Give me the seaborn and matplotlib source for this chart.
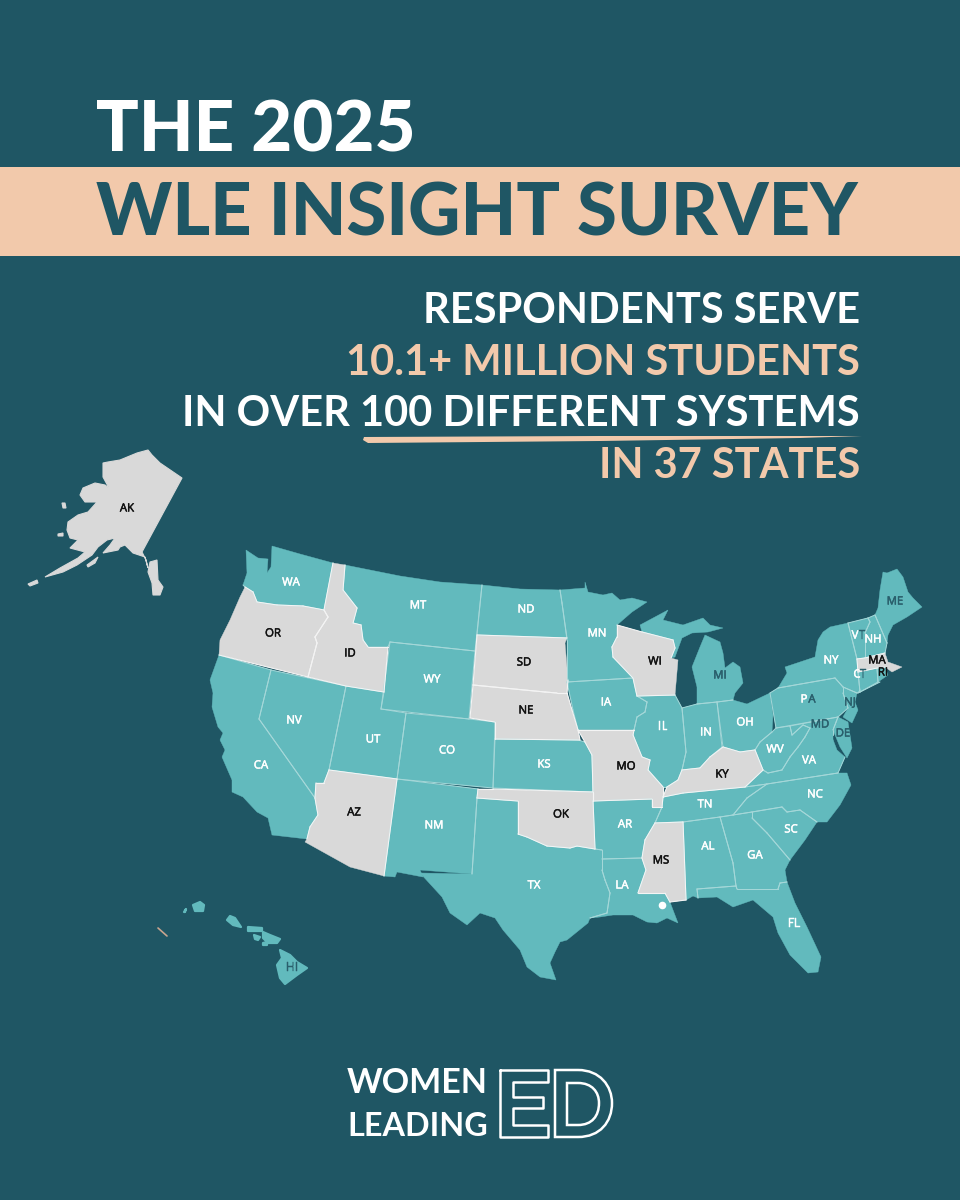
import matplotlib
matplotlib.use("Agg")
import matplotlib.pyplot as plt
from matplotlib.patches import PathPatch, Rectangle, Polygon
from matplotlib.path import Path
import matplotlib.patheffects as pe
import pandas as pd
import seaborn as sns

sns.set_theme(style="white")

# Colors
BG = "#1F5664"
TEAL = "#62BABD"
GRAY = "#D9D9D9"
PEACH = "#F2C9AB"
BORDER_TEAL = "#A5D8D9"
DARK_LABEL = "#2A5F6C"

# State outlines in pixel coordinates
WA = [(246,550),(258,558),(268,559),(267,573),(271,567),(272,546),(300,554),(333,563),(324,610),(303,606),(277,605),(257,602),(253,592),(245,587),(243,585),(247,573)]
OR = [(245,587),(253,592),(257,602),(277,605),(303,606),(324,610),(328,617),(315,637),(317,643),(308,677),(219,655),(220,640),(230,620),(240,597)]
ID = [(333,563),(339,564),(345,565),(343,590),(357,608),(353,623),(361,625),(363,640),(368,647),(388,647),(384,692),(346,686),(308,677),(317,643),(315,637),(328,617),(324,610)]
MT = [(345,565),(400,576),(440,582),(482,585),(475,651),(390,642),(388,647),(368,647),(363,640),(361,625),(353,623),(357,608),(343,590)]
ND = [(482,585),(520,589),(560,590),(562,603),(567,638),(477,635)]
SD = [(477,635),(567,638),(565,643),(568,680),(567,693),(557,693),(545,692),(473,685)]
NE = [(473,685),(545,692),(557,693),(567,693),(572,710),(578,730),(580,740),(495,739),(495,722),(470,718)]
WY = [(390,642),(475,651),(469,719),(381,709)]
UT = [(346,686),(384,692),(381,709),(406,713),(397,779),(329,770)]
CO = [(406,713),(469,719),(495,722),(493,788),(397,779)]
NV = [(271,670),(346,686),(329,770),(324,783),(316,783),(315,798),(259,719)]
CA = [(219,655),(271,670),(259,719),(315,798),(318,815),(310,827),(307,839),(272,835),(268,818),(257,812),(243,797),(232,792),(232,780),(222,757),(225,750),(220,740),(223,733),(218,727),(212,707),(213,693),(210,680)]
AZ = [(329,770),(397,779),(384,876),(350,867),(305,842),(307,839),(310,827),(318,815),(315,798),(316,783),(324,783)]
NM = [(397,779),(478,789),(477,798),(472,874),(420,870),(423,877),(397,872),(395,877),(384,876)]
KS = [(495,739),(578,740),(585,742),(592,755),(593,792),(493,788)]
OK = [(478,789),(493,789),(593,792),(593,801),(595,849),(577,846),(570,848),(547,846),(527,837),(518,834),(518,801),(477,798)]
TX = [(477,798),(518,801),(518,834),(527,837),(547,846),(570,848),(577,846),(595,849),(602,850),(602,870),(605,880),(610,893),(607,913),(590,918),(588,923),(567,940),(560,942),(555,952),(550,963),(556,980),(540,977),(527,967),(520,950),(503,930),(495,918),(480,913),(467,925),(450,913),(442,897),(420,873),(472,874)]
AR = [(593,801),(652,799),(652,807),(662,807),(655,823),(645,840),(642,858),(602,859),(602,850),(595,849)]
MO = [(578,730),(634,730),(633,735),(642,757),(650,760),(648,770),(663,787),(663,797),(662,807),(652,807),(652,799),(593,801),(593,792),(592,755),(585,742)]
IA = [(567,682),(633,678),(637,696),(647,702),(645,712),(637,717),(634,730),(578,730),(573,710)]
MN = [(560,590),(585,588),(585,582),(588,592),(603,595),(612,593),(620,600),(632,598),(647,602),(632,612),(617,625),(617,637),(612,647),(613,657),(633,678),(567,682),(567,640),(562,603)]
WI = [(617,625),(642,632),(673,640),(675,648),(671,658),(678,660),(675,695),(637,696),(633,678),(613,657),(612,647),(617,637)]
IL = [(637,696),(675,695),(682,708),(686,752),(682,770),(678,780),(667,787),(663,787),(648,770),(650,760),(642,757),(633,735),(634,730),(637,717),(645,712),(647,702)]
IN = [(682,708),(697,704),(717,702),(722,747),(710,757),(700,768),(682,770),(686,752)]
OH = [(717,702),(733,700),(747,704),(770,693),(773,715),(772,732),(760,742),(755,750),(740,752),(723,747)]
MI_LOWER = [(692,667),(700,647),(705,635),(720,642),(723,653),(725,668),(733,662),(740,667),(743,683),(735,693),(733,700),(717,702),(697,704),(697,687)]
MI_UPPER = [(640,625),(668,610),(663,620),(683,625),(703,618),(710,625),(723,628),(708,632),(692,633),(682,638),(675,657),(671,658),(675,648),(673,640),(642,632)]
KY = [(723,747),(740,752),(755,750),(763,770),(745,787),(683,793),(663,797),(667,787),(678,780),(682,770),(700,768),(710,757)]
WV = [(772,732),(776,728),(790,726),(792,735),(803,725),(810,728),(805,737),(798,747),(790,757),(782,770),(768,773),(763,770),(755,750),(760,742)]
PA = [(770,693),(778,688),(835,678),(843,687),(843,693),(848,708),(838,717),(776,728)]
MD = [(790,726),(838,717),(833,730),(833,735),(833,743),(823,733),(810,728),(803,725),(792,735)]
DE = [(838,717),(848,722),(852,748),(847,758),(840,747),(833,730)]
VA = [(768,773),(782,770),(790,757),(798,747),(805,737),(810,728),(817,727),(832,737),(837,750),(845,757),(838,773),(767,784),(745,787),(763,770)]
NC = [(767,784),(838,773),(847,773),(851,785),(840,805),(827,822),(817,822),(800,810),(787,812),(782,807),(752,812),(733,815),(747,798)]
TN = [(663,797),(683,793),(745,787),(767,784),(747,798),(733,815),(720,817),(683,822),(655,823),(662,807)]
MS = [(655,823),(683,822),(686,900),(670,902),(665,893),(638,893),(646,870),(642,858),(645,840)]
LA = [(602,859),(642,858),(646,870),(638,893),(665,893),(670,902),(673,910),(678,923),(667,918),(657,923),(647,922),(633,915),(613,915),(600,917),(590,918),(607,913),(610,893),(605,880),(602,870)]
AL = [(683,822),(720,817),(733,863),(736,886),(697,889),(698,898),(693,896),(686,900)]
GA = [(720,817),(733,815),(752,812),(752,818),(767,833),(790,860),(785,870),(787,882),(780,883),(778,889),(737,889),(736,886),(733,863)]
SC = [(752,818),(752,812),(782,807),(787,812),(800,810),(817,822),(805,840),(790,860),(767,833)]
FL = [(697,889),(736,886),(737,889),(778,889),(780,883),(787,882),(795,903),(807,927),(821,957),(818,972),(808,973),(790,955),(778,933),(773,917),(753,900),(733,907),(717,897),(698,898)]
NJ = [(843,687),(857,693),(855,702),(858,710),(852,723),(843,717),(848,708),(843,693)]
NY = [(778,688),(787,673),(785,667),(800,662),(815,657),(818,640),(823,632),(830,627),(848,623),(857,659),(858,672),(860,692),(857,693),(843,687),(835,678)]
LONG_ISLAND = [(858,693),(880,682),(873,682),(860,690)]
VT = [(848,623),(868,618),(870,622),(865,633),(865,658),(857,659)]
NH = [(868,618),(875,615),(887,643),(885,653),(865,658),(865,633),(870,622)]
ME = [(875,615),(878,608),(880,590),(883,572),(887,573),(897,569),(903,577),(908,592),(913,598),(922,607),(907,617),(893,625),(888,635),(887,643)]
MA = [(857,659),(865,658),(885,653),(888,662),(902,667),(892,672),(885,667),(877,668),(858,672)]
CT = [(858,672),(877,668),(878,682),(860,692)]
RI = [(877,668),(885,667),(888,675),(878,682)]
AK = [(103,463),(108,462),(120,460),(137,453),(148,450),(152,455),(160,463),(182,478),(142,552),(146,560),(148,568),(145,557),(133,553),(125,545),(120,547),(118,550),(103,553),(110,545),(115,538),(107,540),(98,547),(92,555),(77,565),(63,572),(45,577),(60,568),(78,558),(85,552),(70,548),(78,540),(70,538),(67,530),(68,522),(78,515),(88,512),(97,502),(85,502),(80,495),(83,488),(95,483),(105,485),(109,488),(103,477)]
AK_PANHANDLE = [(150,562),(157,560),(158,580),(163,587),(160,595),(153,595),(152,583),(148,572)]
AK_KODIAK = [(87,565),(98,557),(95,563),(88,567)]
AK_ISLE_1 = [(28,584),(37,580),(38,583),(30,586)]
AK_ISLE_2 = [(58,534),(63,533),(63,536),(58,536)]
AK_ISLE_3 = [(62,503),(65,503),(66,508),(63,508)]
HI_BIG = [(280,950),(290,955),(297,962),(307,968),(297,975),(285,984),(280,978),(277,965),(282,958)]
HI_MAUI = [(263,932),(270,935),(280,939),(277,943),(268,943),(263,938)]
HI_MOLOKAI = [(248,927),(262,928),(262,931),(248,931)]
HI_LANAI = [(254,935),(260,937),(258,940),(255,939)]
HI_KAHOOLAWE = [(263,943),(267,942),(267,945),(263,945)]
HI_OAHU = [(230,916),(235,918),(241,927),(233,925),(227,920)]
HI_KAUAI = [(193,905),(200,902),(204,905),(203,911),(195,911)]
HI_NIIHAU = [(184,912),(186,909),(185,912)]

teal_shapes = [WA, MT, ND, WY, UT, CO, NV, CA, NM, KS, TX, AR, IA, MN, IL, IN, OH, MI_LOWER, MI_UPPER, WV, PA, MD,
               DE, VA, NC, TN, LA, AL, GA, SC, FL, NJ, NY, LONG_ISLAND, VT, NH, ME, CT, RI]
gray_shapes = [OR, ID, SD, NE, AZ, OK, MO, WI, KY, MS, MA]
hawaii_shapes = [HI_BIG, HI_MAUI, HI_MOLOKAI, HI_LANAI, HI_KAHOOLAWE, HI_OAHU, HI_KAUAI, HI_NIIHAU]
alaska_shapes = [AK, AK_PANHANDLE, AK_KODIAK, AK_ISLE_1, AK_ISLE_2, AK_ISLE_3]

# Labels
label_names = ["AK","WA","OR","ID","MT","ND","SD","WY","NE","NV","UT","CO","KS","CA","AZ","NM","OK","TX","MN","WI","IA","IL","IN","OH","MI","MO","KY","AR","TN","MS","AL","GA","SC","NC","VA","WV","P","A","MD","DE","NJ","NY","V","T","NH","ME","MA","RI","C","T","LA","FL","HI"]
label_x = [127,291,273,350,418,526,524,432,526,294,373,447,544,261,354,434,561,534,597,655,606,663,706,745,720,626,722,625,705,661,708,755,791,815,809,775,804,812,820,843,850,831,855,862,873,895,877,883,857,863,622,794,292]
label_y = [509,583,634,654,606,610,663,680,711,721,740,751,765,766,813,826,815,886,634,662,703,727,733,723,676,767,775,825,805,861,847,856,830,795,761,750,700,700,725,734,703,661,636,636,640,602,661,673,675,675,886,924,968]
black_labels = ["AK","OR","ID","SD","NE","AZ","OK","MO","WI","KY","MS","MA","RI"]
dark_labels = ["MI","MD","DE","NJ","ME","HI","A","T"]

fig = plt.figure(figsize=(9.6, 12), dpi=100, facecolor=BG)
ax = fig.add_axes([0, 0, 1, 1])

# Header band
ax.add_patch(Rectangle((0, 167), 960, 89, color=PEACH, lw=0))
ax.text(96, 151, "THE 2025", color="white", family="Lato", weight="black", fontsize=51, va="baseline", ha="left")
ax.text(96, 236, "WLE INSIGHT SURVEY", color=BG, family="Lato", weight="black", fontsize=52, va="baseline", ha="left")

# Right aligned statement
lines = ["RESPONDENTS SERVE", "10.1+ MILLION STUDENTS", "IN OVER 100 DIFFERENT SYSTEMS", "IN 37 STATES"]
line_colors = ["white", PEACH, "white", PEACH]
line_y = [323, 375, 426, 478]
for txt, col, y in zip(lines, line_colors, line_y):
    ax.text(860, y, txt, color=col, family="Lato", weight="bold", fontsize=30, va="baseline", ha="right")
ax.add_patch(Polygon([(364, 437), (600, 436), (862, 436), (800, 438), (600, 441), (368, 443), (363, 440)], color=PEACH, lw=0))


# Map polygons: filled shapes, then only the borders two shapes have in common
def near_other(pt, own, shapes, tol=2):
    for other in shapes:
        if other is own:
            continue
        for q in other:
            if abs(q[0] - pt[0]) <= tol and abs(q[1] - pt[1]) <= tol:
                return True
    return False


def draw_states(shapes, all_shapes, fill, edge):
    rows = []
    seg = 0
    for shape in shapes:
        ax.fill([p[0] for p in shape], [p[1] for p in shape], color=fill, lw=0.3, zorder=2)
        closed = shape + shape[:1]
        for a, b in zip(closed[:-1], closed[1:]):
            if near_other(a, shape, all_shapes) and near_other(b, shape, all_shapes):
                rows.append({"seg": seg, "order": 0, "x": a[0], "y": a[1]})
                rows.append({"seg": seg, "order": 1, "x": b[0], "y": b[1]})
                seg += 1
    return pd.DataFrame(rows), edge


all_states = teal_shapes + gray_shapes
teal_edges, teal_edge_color = draw_states(teal_shapes, all_states, TEAL, BORDER_TEAL)
gray_edges, gray_edge_color = draw_states(gray_shapes, all_states, GRAY, "#F4F4F4")
sns.lineplot(data=teal_edges, x="x", y="y", units="seg", estimator=None, sort=False, color=teal_edge_color,
             linewidth=0.7, ax=ax, zorder=3, legend=False)
sns.lineplot(data=gray_edges, x="x", y="y", units="seg", estimator=None, sort=False, color=gray_edge_color,
             linewidth=0.8, ax=ax, zorder=3, legend=False)

for shape in alaska_shapes:
    ax.fill([p[0] for p in shape], [p[1] for p in shape], color=GRAY, lw=0.8, zorder=2)
for shape in hawaii_shapes:
    ax.fill([p[0] for p in shape], [p[1] for p in shape], color=TEAL, lw=1.6, joinstyle="round", zorder=2)

# Details
ax.plot([158, 167], [928, 936], color="#C9A58F", lw=1.2, zorder=3)
ax.scatter([662], [905], s=30, color="white", lw=0, zorder=4)

for name, x, y in zip(label_names, label_x, label_y):
    col = "white"
    if name in black_labels:
        col = "#111111"
    elif name in dark_labels:
        col = DARK_LABEL
    ax.text(x, y, name, color=col, family="Open Sans", fontsize=8.2, ha="center", va="center", zorder=5,
            path_effects=[pe.withStroke(linewidth=0.35, foreground=col)])

# Logo
ax.text(347, 1093, "WOMEN", color="white", family="Lato", weight="bold", fontsize=24.5, va="baseline", ha="left")
ax.text(347, 1136, "LEADING", color="white", family="Lato", weight="bold", fontsize=23.3, va="baseline", ha="left")
E_X = [500, 548, 548, 513, 513, 543, 543, 513, 513, 548, 548, 500, 500]
E_Y = [1070, 1070, 1082, 1082, 1097, 1097, 1108, 1108, 1125, 1125, 1137, 1137, 1070]
ax.plot(E_X, E_Y, color="white", lw=1.8, zorder=5)
d_codes = [Path.MOVETO, Path.LINETO, Path.CURVE4, Path.CURVE4, Path.CURVE4, Path.CURVE4, Path.CURVE4, Path.CURVE4,
           Path.LINETO, Path.CLOSEPOLY]
d_outer = Path([(555, 1070), (578, 1070), (600, 1070), (612, 1086), (612, 1103), (612, 1122), (600, 1137), (578, 1137),
                (555, 1137), (555, 1070)], d_codes)
d_inner = Path([(567, 1083), (578, 1083), (592, 1083), (599, 1092), (599, 1103), (599, 1116), (592, 1125), (578, 1125),
                (567, 1125), (567, 1083)], d_codes)
ax.add_patch(PathPatch(d_outer, fc="none", ec="white", lw=1.8, zorder=5))
ax.add_patch(PathPatch(d_inner, fc="none", ec="white", lw=1.8, zorder=5))

ax.set_xlim(0, 960)
ax.set_ylim(1200, 0)
ax.axis("off")

fig.savefig("out.png", dpi=100, facecolor=BG)
